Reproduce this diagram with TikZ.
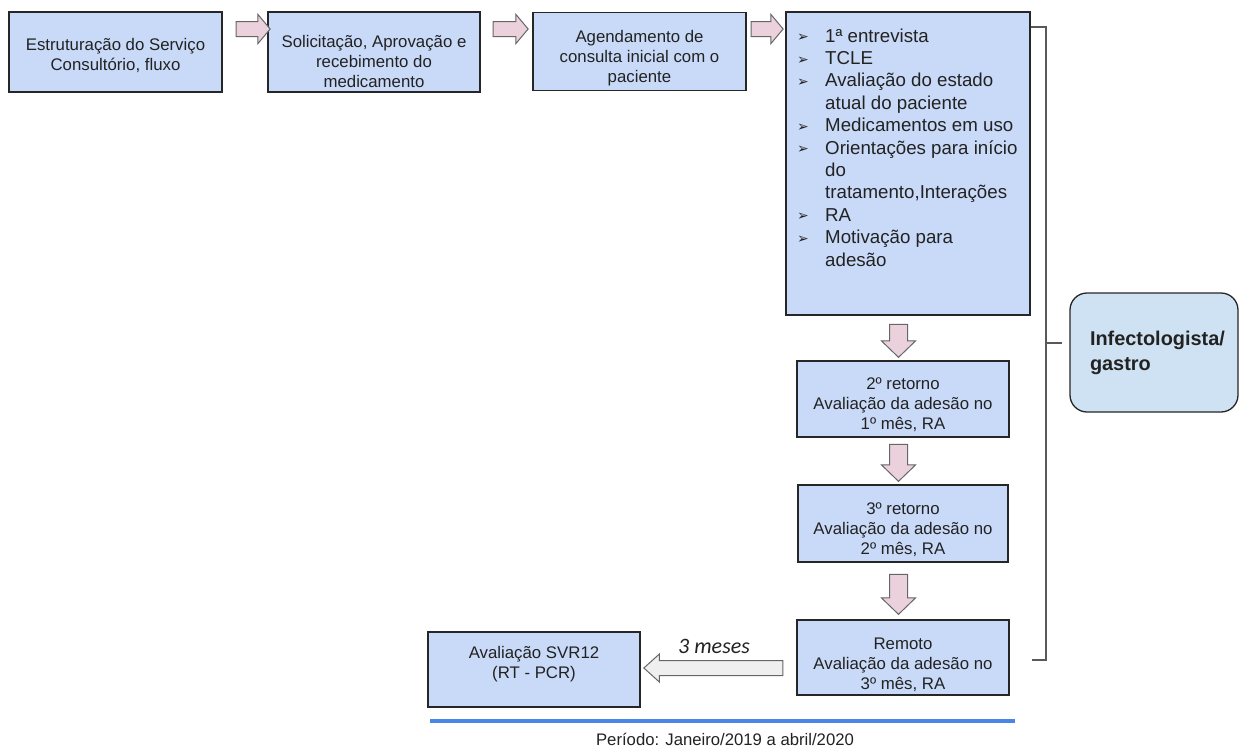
\documentclass[tikz,border=0pt]{standalone}
\usepackage{fontspec}
\setmainfont{Liberation Sans}
\newfontfamily\dejavu{DejaVu Sans}
\newfontfamily\carlito{Carlito}
\usetikzlibrary{shapes.arrows,calc}
\definecolor{boxblue}{HTML}{C9DAF8}
\definecolor{infblue}{HTML}{CFE2F3}
\definecolor{pinkfill}{HTML}{EAD1DC}
\definecolor{arrowedge}{HTML}{666666}
\definecolor{greyfill}{HTML}{EFEFEF}
\definecolor{lineblue}{HTML}{4A86E8}
\definecolor{txtcol}{HTML}{222222}
\definecolor{brkcol}{HTML}{595959}
\newcommand\itm{\makebox[28pt][l]{\raisebox{0.5pt}{\dejavu\fontsize{14}{14}\selectfont ➢}}}
\newcommand\ind{\hspace*{28pt}}
\begin{document}
\begin{tikzpicture}[x=1pt,y=-1pt,
  boxnode/.style n args={2}{draw=black!85, line width=1.3pt, fill=boxblue, inner sep=0pt,
     minimum width=#1, minimum height=#2},
  boxtext/.style={font=\fontsize{16.8}{20}\selectfont, text=txtcol, align=center, inner sep=0pt},
  blockarrow/.style n args={3}{single arrow, draw=arrowedge, line width=1pt,
     inner xsep=0pt, inner ysep=#2/2, minimum height=#1, single arrow head extend=#3},
  pinkarrow/.style n args={3}{blockarrow={#1}{#2}{#3}, fill=pinkfill},
  brk/.style={draw=brkcol, line width=1.3pt}
]
\useasboundingbox (0,0) rectangle (1240,747);

% top row boxes
\node[boxnode={213}{80}] (b1) at (115.5,52) {};
\node[boxtext] (t1) at (115.5,55) {Estruturação do Serviço\\Consultório, fluxo};
\node[boxnode={212}{80}] (b2) at (374,52) {};
\node[boxtext] (t2) at (374,61) {Solicitação, Aprovação e\\recebimento do\\medicamento};
\node[boxnode={213}{78}] (b3) at (639.5,51.5) {};
\node[boxtext] (t3) at (639.5,58) {Agendamento de\\consulta inicial com o\\paciente};
\node[boxnode={244}{303}] (b4) at (908,163.5) {};
\node[anchor=north west, inner sep=0pt, align=left, text=txtcol,
      font=\fontsize{18.7}{22.4}\selectfont] (lst) at (797,26.3)
 {\strut\itm 1ª entrevista\\
  \itm TCLE\\
  \itm Avaliação do estado\\
  \ind atual do paciente\\
  \itm Medicamentos em uso\\
  \itm Orientações para início\\
  \ind do\\
  \ind tratamento,Interações\\
  \itm RA\\
  \itm Motivação para\\
  \ind adesão};

% vertical column
\node[boxnode={212}{76}] (b5) at (903,399) {};
\node[boxtext] (t5) at (903,405) {2º retorno\\Avaliação da adesão no\\1º mês, RA};
\node[boxnode={210}{77}] (b6) at (903,523.5) {};
\node[boxtext] (t6) at (903,530) {3º retorno\\Avaliação da adesão no\\2º mês, RA};
\node[boxnode={212}{75}] (b7) at (903,657.5) {};
\node[boxtext] (t7) at (903,665) {Remoto\\Avaliação da adesão no\\3º mês, RA};

% SVR box
\node[boxnode={212}{75}] (svr) at (534,669.5) {};
\node[boxtext] (tsvr) at (534,664) {Avaliação SVR12\\(RT - PCR)};

% Infectologista box
\node[draw=black!85, line width=1.3pt, fill=infblue, rounded corners=17pt,
      minimum width=168, minimum height=119, inner sep=0pt, text width=128,
      align=left, font=\bfseries\fontsize{19.9}{25}\selectfont, text=txtcol] (inf) at (1154,352.5)
      {Infectologista/\\gastro};

% horizontal block arrows
\node[pinkarrow={34}{14pt}{7pt}, single arrow tip angle=100] (pa1) at (250,29) {};
\node[pinkarrow={35}{14pt}{7pt}, single arrow tip angle=100] (pa2) at (507.5,29) {};
\node[pinkarrow={32}{14pt}{7pt}, single arrow tip angle=100] (pa3) at (764,29) {};

% vertical block arrows
\node[pinkarrow={33}{17pt}{8pt}, single arrow tip angle=92, rotate=-90] (pd1) at (898.5,336.5) {};
\node[pinkarrow={37}{17pt}{8pt}, single arrow tip angle=92, rotate=-90] (pd2) at (898.5,458.5) {};
\node[pinkarrow={40}{17pt}{8pt}, single arrow tip angle=92, rotate=-90] (pd3) at (898.5,590) {};

% grey arrow to SVR
\node[blockarrow={139}{14pt}{6.5pt}, fill=greyfill, single arrow tip angle=84, rotate=180] (ga) at (717.5,668) {};
\node[anchor=base west, inner sep=0pt, font=\carlito\itshape\fontsize{22}{22}\selectfont,
      text=txtcol] (meses) at (678,653) {3 meses};

% bracket
\coordinate (brT) at (1046,27);
\coordinate (brM) at (1046,343);
\coordinate (brB) at (1046,660);
\coordinate (brE) at (1032,660);
\coordinate (tickE) at (1062,343);
\draw[brk] (b4.east |- brT) -- (brT) -- (brB) -- (brE);
\draw[brk] (brM) -- (tickE);

% timeline
\coordinate (lnA) at (430,721);
\coordinate (lnB) at (1015,721);
\draw[lineblue, line width=4.5pt] (lnA) -- (lnB);
\node[anchor=base, inner sep=0pt, font=\fontsize{16.7}{20}\selectfont, text=txtcol] (per) at (725,745)
  {Período: Janeiro/2019 a abril/2020};
\end{tikzpicture}
\end{document}
